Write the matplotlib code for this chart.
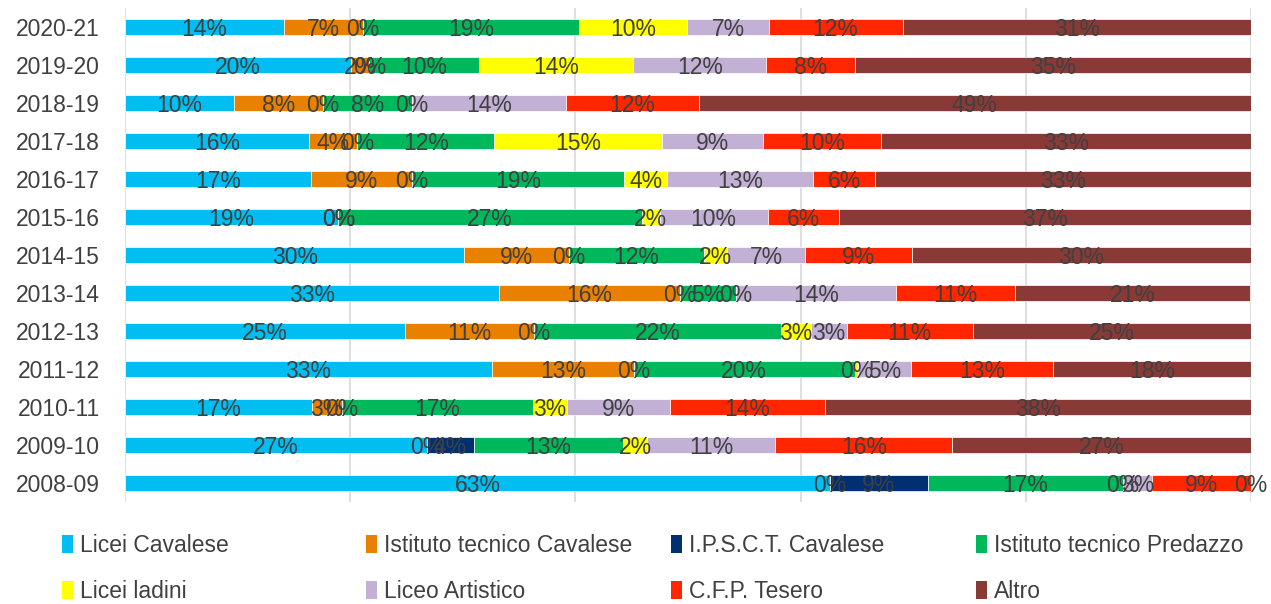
import matplotlib
matplotlib.use("Agg")
import matplotlib.pyplot as plt
from matplotlib.patches import Patch

plt.rcParams['font.family'] = ['Liberation Sans', 'DejaVu Sans']

categories = ['2020-21', '2019-20', '2018-19', '2017-18', '2016-17', '2015-16', '2014-15',
              '2013-14', '2012-13', '2011-12', '2010-11', '2009-10', '2008-09']

series_names = ['Licei Cavalese', 'Istituto tecnico Cavalese', 'I.P.S.C.T. Cavalese',
                'Istituto tecnico Predazzo', 'Licei ladini', 'Liceo Artistico',
                'C.F.P. Tesero', 'Altro']

licei_cavalese = [14.15, 20.1, 9.68, 16.34, 16.55, 18.95, 30.13, 33.25, 24.9, 32.6, 16.6, 26.8, 62.6]
ist_tec_cavalese = [7.0, 1.6, 7.9, 4.3, 8.9, 0.0, 9.3, 16.0, 11.4, 12.6, 2.66, 0.0, 0.0]
ipsct_cavalese = [0.0, 0.0, 0.0, 0.0, 0.0, 0.0, 0.0, 0.0, 0.0, 0.0, 0.0, 4.2, 8.7]
ist_tec_predazzo = [19.2, 9.7, 7.9, 12.13, 18.9, 26.93, 12.0, 5.0, 22.0, 19.6, 17.0, 13.26, 17.3]
licei_ladini = [9.6, 13.75, 0.0, 14.95, 3.81, 1.6, 2.0, 0.0, 2.6, 0.3, 3.0, 2.1, 0.0]
liceo_artistico = [7.2, 11.8, 13.67, 8.94, 12.94, 9.6, 7.0, 14.2, 3.2, 4.7, 9.1, 11.4, 2.6]
cfp_tesero = [11.9, 7.84, 11.79, 10.45, 5.54, 6.34, 9.44, 10.6, 11.2, 12.6, 13.8, 15.7, 8.8]
altro = [31.0, 35.3, 49.08, 32.89, 33.36, 36.56, 30.16, 20.9, 24.7, 17.6, 37.8, 26.6, 0.0]

series_values = [licei_cavalese, ist_tec_cavalese, ipsct_cavalese, ist_tec_predazzo,
                 licei_ladini, liceo_artistico, cfp_tesero, altro]

colors = ['#00BEF2', '#EA8000', '#002F72', '#00B85C', '#FFFF00', '#C2B1D4', '#FF2600', '#893A37']

TEXT = '#404040'
FS = 16.5

W, H = 1271, 604
fig = plt.figure(figsize=(W / 100, H / 100), dpi=100)
ax = fig.add_axes([125 / W, 1 - 502 / H, 1126 / W, 494 / H])

left = [0.0] * len(categories)
for name, vals, col in zip(series_names, series_values, colors):
    bars = ax.barh(categories, vals, left=left, height=0.42, color=col,
                   edgecolor='white', linewidth=0.5, label=name, zorder=2)
    anns = ax.bar_label(bars, labels=[f"{v:.0f}%" for v in vals], label_type='center',
                        fontsize=FS, color=TEXT, zorder=3)
    for a in anns:
        a.xyann = (0, -1.5)
    left = [a + b for a, b in zip(left, vals)]

ax.set_xlim(0, 100)
ax.set_ylim(len(categories) - 0.5, -0.5)
ax.set_xticks([0, 20, 40, 60, 80, 100])
ax.xaxis.grid(True, color='#D9D9D9', linewidth=1.2, zorder=0)
ax.set_axisbelow(True)
for s in ax.spines.values():
    s.set_visible(False)
ax.tick_params(axis='x', length=0, labelbottom=False)
ax.tick_params(axis='y', length=0, pad=18, labelsize=FS, labelcolor=TEXT)

x_cols = [62, 366, 671, 976]
for i, xc in enumerate(x_cols):
    handles = [Patch(facecolor=colors[i], edgecolor='none'),
               Patch(facecolor=colors[i + 4], edgecolor='none')]
    fig.legend(handles, [series_names[i], series_names[i + 4]], loc='upper left',
               bbox_to_anchor=(xc / W, 1 - 534 / H), frameon=False, fontsize=FS,
               labelcolor=TEXT, handlelength=0.5, handleheight=0.85, handletextpad=0.3,
               labelspacing=1.0, borderaxespad=0, borderpad=0)

fig.savefig('out.png', dpi=100)
